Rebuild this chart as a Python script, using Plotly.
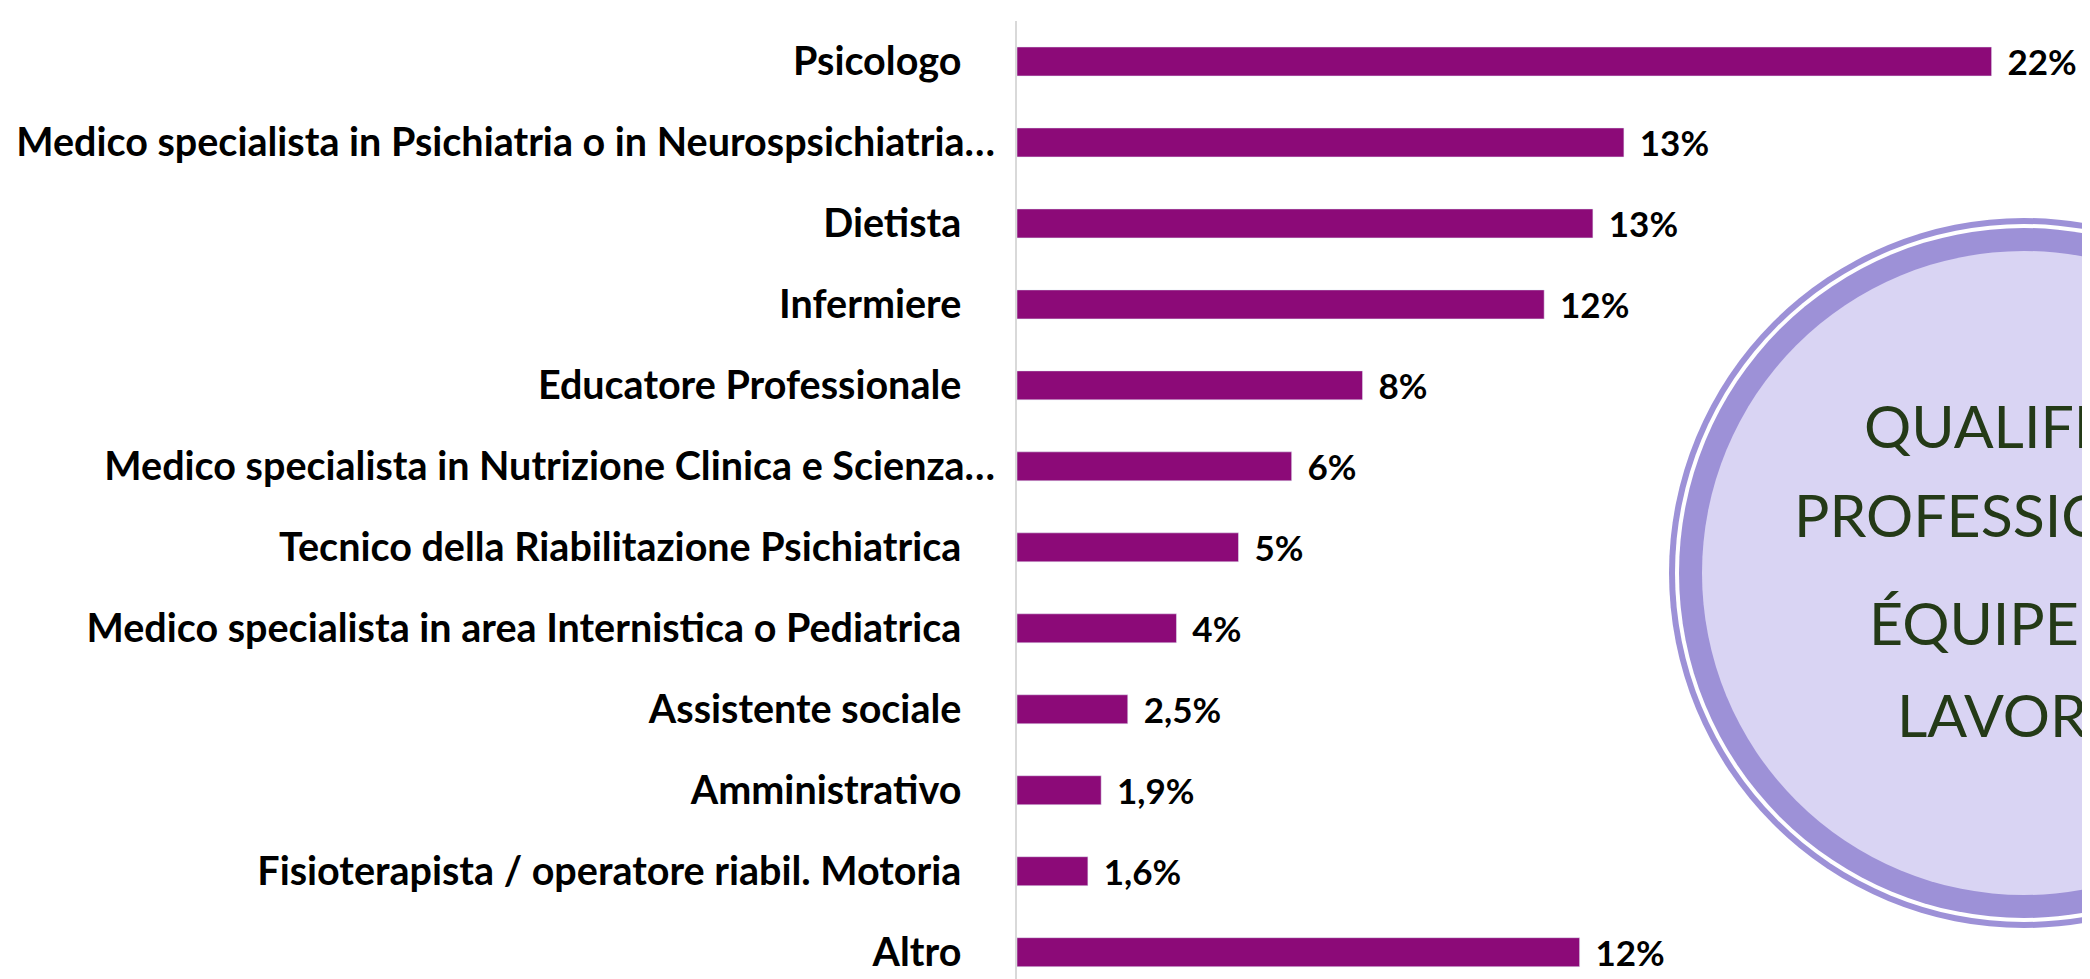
import plotly.graph_objects as go

categories = [
    "Psicologo",
    "Medico specialista in Psichiatria o in Neurospsichiatria…",
    "Dietista",
    "Infermiere",
    "Educatore Professionale",
    "Medico specialista in Nutrizione Clinica e Scienza…",
    "Tecnico della Riabilitazione Psichiatrica",
    "Medico specialista in area Internistica o Pediatrica",
    "Assistente sociale",
    "Amministrativo",
    "Fisioterapista / operatore riabil. Motoria",
    "Altro",
]
values = [22.0, 13.7, 13.0, 11.9, 7.8, 6.2, 5.0, 3.6, 2.5, 1.9, 1.6, 12.7]
value_labels = ["22%", "13%", "13%", "12%", "8%", "6%", "5%", "4%", "2,5%", "1,9%", "1,6%", "12%"]
title_lines = ["QUALIFICHE", "PROFESSIONALI", "ÉQUIPE DI", "LAVORO"]

BAR = "#8C0A78"
RING = "#9D91D7"
FILL = "#D9D4F3"
TEXT_GREEN = "#243A17"

W, H = 2090, 979
L, T = 1009, 13
PW, PH = W - L, H - T


def px(x):
    return (x - L) / PW


def py(y):
    return (H - y) / PH


# etichette: quelle troncate arrivano fino all'asse, le altre hanno spazio in coda
tick_text = [c if c.endswith("…") else c + "\u00a0" * 3 + "\u2009" for c in categories]

fig = go.Figure(go.Bar(
    x=values,
    y=list(range(len(categories))),
    orientation="h",
    width=0.358,
    marker_color=BAR,
    text=["\u00a0\u2009" + v for v in value_labels],
    textposition="outside",
    constraintext="none",
    cliponaxis=False,
    textfont=dict(family="Lato", size=35, color="black", weight="bold"),
))

# cerchio decorativo, in parte fuori dalla pagina
cx, cy = 2016, 565
rings = [(355, RING), (349, "white"), (345, RING), (322, FILL)]
shapes = []
for r, col in rings:
    shapes.append(dict(
        type="circle", xref="paper", yref="paper",
        x0=px(cx - r), x1=px(cx + r), y0=py(cy + r), y1=py(cy - r),
        fillcolor=col, line=dict(width=0), layer="above",
    ))

# righe del titolo nel cerchio (inizio riga, centro riga)
line_x = [1854, 1784, 1859, 1887]
line_y = [417, 506, 614, 706]
annotations = []
for txt, lx, ly in zip(title_lines, line_x, line_y):
    annotations.append(dict(
        xref="paper", yref="paper", x=px(lx), y=py(ly), xanchor="left", yanchor="middle",
        text=txt, showarrow=False,
        font=dict(family="Lato", size=59, color=TEXT_GREEN),
    ))

fig.update_layout(
    width=W, height=H,
    margin=dict(l=L, r=0, t=T, b=0, autoexpand=False),
    plot_bgcolor="white",
    paper_bgcolor="white",
    showlegend=False,
    xaxis=dict(range=[0, PW / 44.3], showgrid=False, zeroline=False, showticklabels=False,
               showline=False, automargin=False),
    yaxis=dict(range=[11.43, -0.5], tickvals=list(range(len(categories))), ticktext=tick_text,
               showgrid=False, zeroline=False, showline=True, linecolor="#D9D9D9", linewidth=2,
               ticks="", ticklabelstandoff=12, automargin=False,
               tickfont=dict(family="Lato", size=39.5, color="black", weight="bold")),
    shapes=shapes,
    annotations=annotations,
)

fig.write_html("out.html")
